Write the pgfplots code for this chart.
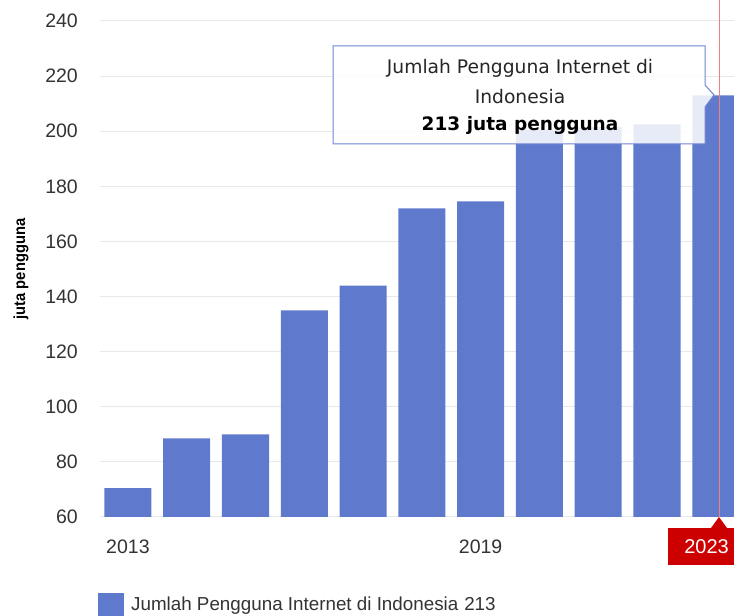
\documentclass[border=0pt]{standalone}
\usepackage{fontspec}
\setmainfont{Liberation Sans}
\newfontfamily\tipfont{DejaVu Sans}
\newfontfamily\narrowfont[FakeStretch=0.92]{Liberation Sans}
\usepackage{pgfplots}
\pgfplotsset{compat=1.18}
\definecolor{barblue}{HTML}{5F7ACC}
\definecolor{gridgray}{HTML}{E8E8E8}
\definecolor{tickgray}{HTML}{333333}
\definecolor{hired}{HTML}{CC0000}
\definecolor{tipblue}{HTML}{6F84D4}
\definecolor{crossred}{HTML}{F08080}
\begin{document}
\begin{tikzpicture}[x=1pt,y=1pt]
\useasboundingbox (0,0) rectangle (734,616);
\begin{axis}[
  at={(100pt,99pt)}, anchor=south west, scale only axis,
  width=634pt, height=496pt,
  xmin=-0.475, xmax=10.31, ymin=60, ymax=240,
  ytick={60,80,...,240}, xtick={0,6}, xticklabels={2013,2019},
  ymajorgrids, grid style={gridgray, line width=1pt},
  axis line style={draw=none}, major tick length=0pt,
  tick label style={font=\fontsize{19.5}{21}\selectfont, text=tickgray},
  /pgf/number format/assume math mode=true,
  yticklabel style={anchor=east, inner sep=0pt, xshift=-22pt},
  xticklabel style={anchor=north, inner sep=0pt, yshift=-23pt},
  ylabel={juta pengguna},
  ylabel style={at={(axis description cs:0,0.5)}, anchor=center, yshift=79pt, font=\narrowfont\bfseries\fontsize{16}{18}\selectfont, text=black},
  ybar, bar width=0.8,
  legend style={at={(axis description cs:0,0)}, anchor=north west, xshift=-2pt, yshift=-76pt, draw=none, fill=none, inner sep=0pt, font=\fontsize{18.8}{20}\selectfont, text=tickgray, nodes={inner xsep=7pt}},
  legend image code/.code={\fill[barblue] (0pt,-11.5pt) rectangle (26pt,11.5pt);},
]
\addplot[fill=barblue, draw=none] coordinates {
  (0,70.5) (1,88.5) (2,90) (3,135) (4,144) (5,172) (6,174.5) (7,200.5) (8,201.5) (9,202.5) (10,213)
};
\addlegendentry{Jumlah Pengguna Internet di Indonesia\hspace{6pt}213}
\end{axis}
% crosshair
\draw[color=crossred, line width=0.8pt] (719,616) -- (719,99);
% x-axis hover label
\fill[hired] (668,51) rectangle (740,88);
\fill[hired] (711,88) -- (719,99) -- (727,88) -- cycle;
\node[text=white, font=\fontsize{20}{22}\selectfont] at (706.5,69.5) {2023};
% tooltip
\draw[draw=tipblue, fill=white, fill opacity=0.85, line width=1pt]
  (333,472) -- (333,570) -- (705,570) -- (705,531) -- (714,521) -- (705,509) -- (705,472) -- cycle;
\node[font=\tipfont\fontsize{18.7}{21}\selectfont, text=black!85] at (520,548) {Jumlah Pengguna Internet di};
\node[font=\tipfont\fontsize{18.7}{21}\selectfont, text=black!85] at (520,519) {Indonesia};
\node[font=\tipfont\bfseries\fontsize{18.5}{21}\selectfont, text=black] at (520,491) {213 juta pengguna};
\end{tikzpicture}
\end{document}
